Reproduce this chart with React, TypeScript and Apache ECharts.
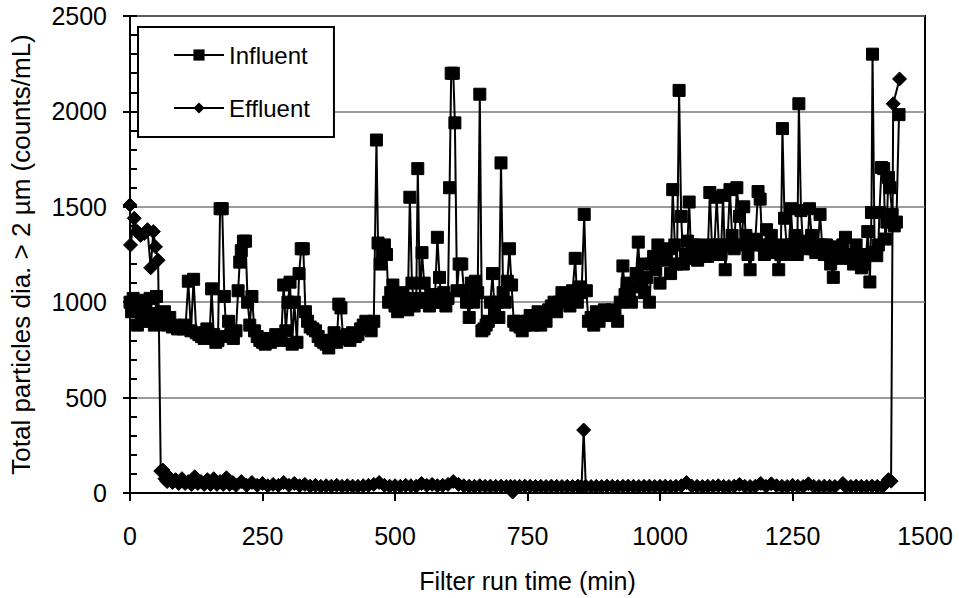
import React, { useEffect, useRef } from "react";
import * as echarts from "echarts";

const FONT = '"Liberation Sans", Arial, Helvetica, sans-serif';

const xTicks = { min: 0, max: 1500, interval: 250 };
const yTicks = { min: 0, max: 2500, interval: 500 };

const xTitle = "Filter run time (min)";
const yTitle = "Total particles dia. > 2 µm (counts/mL)";
const seriesNames = ["Influent", "Effluent"];

// [time (min), counts/mL]
const influent: number[][] = [
  [0, 1000], [3, 950], [6, 1020], [10, 970], [14, 880], [18, 1000], [22, 900], [26, 960], [30, 1010], [34, 900],
  [38, 1020], [42, 940], [46, 880], [50, 1030], [55, 920], [60, 900], [65, 950], [70, 880], [75, 920], [80, 870],
  [85, 880], [90, 860], [95, 870], [100, 860], [105, 880], [110, 1110], [115, 850], [120, 1120], [125, 840], [130, 830],
  [135, 820], [140, 810], [145, 860], [150, 820], [154, 1070], [158, 830], [162, 790], [166, 800], [170, 1490], [174, 1490],
  [178, 1030], [182, 820], [186, 900], [190, 830], [195, 810], [200, 850], [204, 1060], [207, 1210], [210, 1270], [214, 1320],
  [218, 1320], [222, 1000], [226, 880], [230, 1030], [235, 850], [240, 820], [245, 800], [250, 790], [255, 780], [260, 810],
  [265, 790], [270, 800], [275, 830], [280, 810], [285, 800], [290, 1090], [294, 850], [298, 1000], [302, 1105], [306, 780],
  [310, 1000], [315, 790], [319, 1150], [323, 1280], [327, 1280], [331, 950], [335, 900], [340, 870], [345, 860], [350, 850],
  [355, 820], [360, 800], [365, 790], [370, 780], [375, 760], [380, 800], [385, 840], [390, 790], [394, 990], [398, 970],
  [402, 820], [406, 810], [410, 830], [415, 800], [420, 840], [425, 820], [430, 830], [435, 860], [440, 880], [445, 900],
  [450, 880], [455, 850], [460, 900], [465, 1850], [468, 1310], [472, 1200], [476, 1250], [480, 1300], [484, 1250], [488, 1000],
  [492, 1050], [496, 1090], [500, 980], [505, 950], [510, 1000], [515, 1050], [520, 1020], [524, 960], [528, 1550], [532, 1100],
  [536, 980], [540, 1000], [543, 1700], [547, 1020], [551, 1260], [555, 1100], [560, 1000], [565, 980], [570, 1040], [575, 1000],
  [580, 1340], [584, 1130], [588, 1000], [592, 1050], [596, 980], [600, 1020], [603, 1600], [606, 2200], [610, 2200], [613, 1940],
  [617, 1060], [621, 1200], [626, 1200], [630, 1060], [635, 1000], [640, 920], [644, 1100], [648, 1000], [652, 1110], [656, 1050],
  [660, 2090], [664, 850], [668, 860], [672, 880], [676, 900], [680, 1000], [684, 1150], [688, 950], [692, 1000], [696, 920],
  [700, 1730], [704, 1050], [708, 1000], [712, 1110], [716, 1280], [720, 1090], [724, 900], [728, 880], [732, 900], [736, 870],
  [740, 850], [745, 880], [750, 900], [755, 930], [760, 880], [765, 900], [770, 950], [775, 880], [780, 940], [785, 900],
  [790, 960], [795, 980], [800, 1000], [805, 950], [810, 1000], [815, 1050], [820, 1000], [825, 1030], [830, 980], [835, 1060],
  [840, 1230], [844, 1000], [848, 1080], [852, 1050], [857, 1460], [861, 1060], [865, 900], [870, 920], [875, 880], [880, 950],
  [885, 900], [890, 940], [895, 960], [900, 950], [905, 930], [910, 960], [915, 940], [920, 900], [925, 1000], [930, 1190],
  [934, 1040], [938, 1100], [942, 1050], [946, 1000], [950, 1080], [955, 1150], [959, 1315], [963, 1100], [967, 1200], [971, 1050],
  [975, 1130], [980, 1000], [984, 1200], [988, 1240], [992, 1170], [996, 1300], [1000, 1100], [1004, 1270], [1008, 1250], [1012, 1220],
  [1016, 1280], [1020, 1150], [1024, 1590], [1028, 1300], [1032, 1200], [1036, 2110], [1040, 1450], [1044, 1200], [1048, 1250], [1052, 1320],
  [1055, 1525], [1059, 1230], [1063, 1300], [1067, 1260], [1071, 1220], [1075, 1300], [1080, 1250], [1085, 1280], [1090, 1240], [1094, 1575],
  [1098, 1300], [1102, 1250], [1107, 1550], [1111, 1300], [1115, 1250], [1119, 1560], [1123, 1170], [1127, 1300], [1132, 1590], [1136, 1350],
  [1140, 1280], [1145, 1600], [1150, 1450], [1154, 1300], [1158, 1500], [1162, 1350], [1166, 1250], [1170, 1170], [1175, 1300], [1180, 1330],
  [1185, 1580], [1189, 1540], [1193, 1300], [1197, 1250], [1201, 1380], [1205, 1270], [1210, 1350], [1215, 1300], [1220, 1260], [1224, 1170],
  [1228, 1250], [1231, 1910], [1235, 1440], [1239, 1300], [1243, 1250], [1247, 1490], [1251, 1300], [1255, 1350], [1259, 1250], [1262, 2040],
  [1266, 1480], [1270, 1300], [1274, 1320], [1278, 1280], [1282, 1490], [1286, 1350], [1290, 1280], [1294, 1260], [1298, 1300], [1302, 1460],
  [1306, 1300], [1310, 1250], [1314, 1300], [1318, 1270], [1322, 1200], [1327, 1130], [1331, 1290], [1335, 1250], [1340, 1230], [1345, 1300],
  [1350, 1340], [1355, 1250], [1360, 1230], [1365, 1200], [1370, 1300], [1375, 1250], [1380, 1180], [1385, 1200], [1389, 1250], [1392, 1370],
  [1396, 1106], [1399, 1470], [1401, 2300], [1405, 1260], [1409, 1244], [1412, 1300], [1414, 1470], [1418, 1706], [1422, 1700], [1425, 1331],
  [1428, 1420], [1431, 1654], [1434, 1600], [1438, 1460], [1442, 1400], [1446, 1420], [1451, 1983],
];

const effluent: number[][] = [
  [0, 1510], [1, 1300], [8, 1440], [14, 1370], [20, 1350], [27, 1360], [33, 1380], [39, 1180], [44, 1370], [48, 1290],
  [53, 1220], [58, 115], [62, 120], [66, 75], [70, 60], [75, 80], [80, 55], [86, 70], [92, 50], [98, 75],
  [104, 50], [110, 60], [116, 45], [122, 85], [128, 50], [134, 60], [140, 45], [146, 70], [152, 45], [158, 75],
  [164, 45], [170, 60], [176, 45], [182, 80], [188, 45], [194, 55], [200, 40], [210, 60], [220, 40], [230, 55],
  [240, 40], [250, 50], [260, 38], [270, 45], [280, 40], [290, 55], [300, 40], [310, 50], [320, 38], [330, 45],
  [340, 36], [350, 40], [360, 35], [370, 38], [380, 36], [390, 40], [400, 35], [410, 38], [420, 36], [430, 35],
  [440, 38], [450, 40], [460, 45], [470, 55], [480, 40], [490, 36], [500, 38], [510, 35], [520, 40], [530, 38],
  [540, 36], [550, 50], [560, 40], [570, 45], [580, 38], [590, 40], [600, 45], [610, 60], [620, 45], [630, 38],
  [640, 36], [650, 35], [660, 38], [670, 35], [680, 36], [690, 35], [700, 36], [710, 34], [718, 35], [722, 5],
  [726, 34], [735, 35], [745, 36], [755, 35], [765, 34], [775, 35], [785, 34], [795, 36], [805, 35], [815, 34],
  [825, 35], [835, 34], [845, 36], [852, 35], [856, 330], [860, 35], [870, 34], [880, 35], [890, 34], [900, 36],
  [910, 35], [920, 34], [930, 35], [940, 36], [950, 35], [960, 34], [970, 35], [980, 36], [990, 34], [1000, 35],
  [1010, 36], [1020, 34], [1030, 35], [1040, 38], [1050, 55], [1060, 36], [1070, 35], [1080, 34], [1090, 36], [1100, 35],
  [1110, 38], [1120, 35], [1130, 34], [1140, 36], [1150, 45], [1160, 35], [1170, 34], [1180, 36], [1190, 50], [1200, 35],
  [1210, 48], [1220, 38], [1230, 35], [1240, 34], [1250, 40], [1260, 35], [1270, 34], [1280, 48], [1290, 35], [1300, 34],
  [1310, 36], [1320, 35], [1330, 34], [1345, 50], [1350, 35], [1360, 34], [1370, 36], [1380, 35], [1390, 34], [1400, 36],
  [1410, 35], [1420, 34], [1431, 70], [1436, 62], [1440, 2040], [1452, 2170],
];

export default function App() {
  const ref = useRef<HTMLDivElement>(null);
  useEffect(() => {
    if (!ref.current) return;
    const chart = echarts.init(ref.current, null, { renderer: "svg" });
    const black = "#000";
    const plain = (v: number) => String(v);
    chart.setOption({
      animation: false,
      backgroundColor: "#fff",
      textStyle: { fontFamily: FONT, color: black },
      grid: {
        left: 130,
        right: 34,
        top: 16,
        bottom: 103,
        show: true,
        borderColor: black,
        borderWidth: 2,
        backgroundColor: "transparent",
      },
      legend: {
        orient: "vertical",
        left: 138,
        top: 27,
        data: seriesNames,
        backgroundColor: "#fff",
        borderColor: black,
        borderWidth: 2,
        borderRadius: 0,
        padding: [14, 24, 15, 35],
        itemGap: 25,
        itemWidth: 50,
        itemHeight: 14,
        textStyle: { fontFamily: FONT, fontSize: 24, color: black, lineHeight: 28 },
        z: 10,
      },
      xAxis: {
        type: "value",
        min: xTicks.min,
        max: xTicks.max,
        interval: xTicks.interval,
        name: xTitle,
        nameLocation: "middle",
        nameGap: 75,
        nameTextStyle: { fontFamily: FONT, fontSize: 25, color: black },
        axisLine: { show: true, onZero: false, lineStyle: { color: black, width: 2 } },
        axisTick: { show: true, inside: false, length: 8, lineStyle: { color: black, width: 2 } },
        axisLabel: { fontFamily: FONT, fontSize: 25, color: black, margin: 30, formatter: plain },
        splitLine: { show: false },
      },
      yAxis: [
        {
          type: "value",
          min: yTicks.min,
          max: yTicks.max,
          interval: yTicks.interval,
          name: yTitle,
          nameLocation: "middle",
          nameGap: 96,
          nameRotate: 90,
          nameTextStyle: { fontFamily: FONT, fontSize: 26, color: black },
          axisLine: { show: true, onZero: false, lineStyle: { color: black, width: 2 } },
          axisTick: { show: true, inside: false, length: 7, lineStyle: { color: black, width: 2 } },
          axisLabel: { fontFamily: FONT, fontSize: 25, color: black, margin: 23, formatter: plain },
          splitLine: { show: true, lineStyle: { color: "#7a7a7a", width: 1.5 } },
        },
        {
          type: "value",
          position: "left",
          offset: 0,
          min: yTicks.min,
          max: yTicks.max,
          interval: yTicks.interval,
          axisLine: { show: false },
          axisTick: { show: true, inside: true, length: 7, lineStyle: { color: black, width: 2 } },
          minorTick: { show: true, splitNumber: 5, length: 7, lineStyle: { color: black, width: 2 } },
          axisLabel: { show: false },
          splitLine: { show: false },
        },
      ],
      series: [
        {
          name: seriesNames[0],
          type: "line",
          yAxisIndex: 0,
          data: influent,
          symbol: "rect",
          symbolSize: 12,
          showAllSymbol: true,
          color: black,
          lineStyle: { color: black, width: 2 },
          itemStyle: { color: black, borderColor: black },
          z: 3,
        },
        {
          name: seriesNames[1],
          type: "line",
          yAxisIndex: 0,
          data: effluent,
          symbol: "diamond",
          symbolSize: 14,
          showAllSymbol: true,
          color: black,
          lineStyle: { color: black, width: 2 },
          itemStyle: { color: black, borderColor: black },
          z: 4,
        },
      ],
    });
    return () => chart.dispose();
  }, []);
  return (
    <div
      ref={ref}
      style={{ position: "fixed", left: 0, top: 0, width: 959, height: 598, background: "#fff" }}
    />
  );
}
